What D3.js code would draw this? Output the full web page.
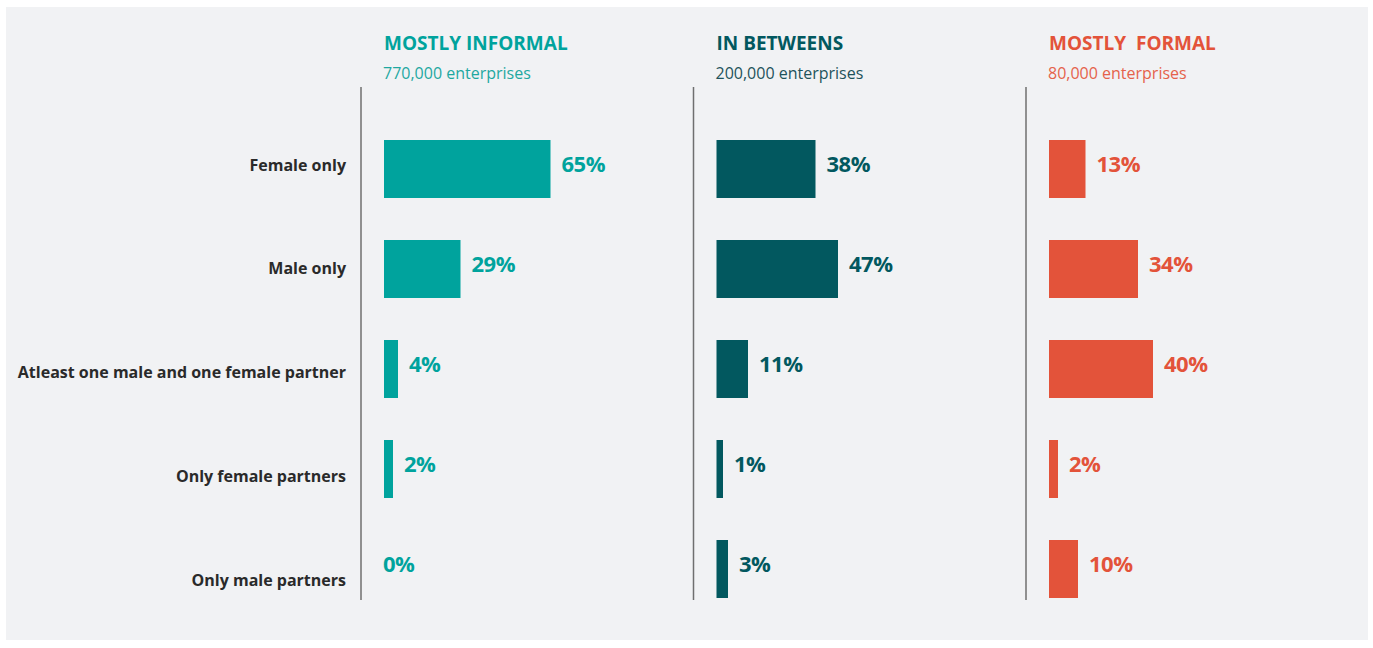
<!DOCTYPE html>
<html>
<head>
<meta charset="utf-8">
<script src="https://cdn.jsdelivr.net/npm/d3@7"></script>
<style>
	body { margin: 0; background: #ffffff; }
	svg { display: block; font-family: 'Open Sans', sans-serif; }
</style>
</head>
<body>
<div id="chart_container"></div>
<script>
// Data
const categories = ['Female only', 'Male only', 'Atleast one male and one female partner', 'Only female partners', 'Only male partners']
const groups = ['MOSTLY INFORMAL', 'IN BETWEENS', 'MOSTLY  FORMAL']
const groupSubtitles = ['770,000 enterprises', '200,000 enterprises', '80,000 enterprises']
const informalValues = [65, 29, 4, 2, 0]
const inBetweenValues = [38, 47, 11, 1, 3]
const formalValues = [13, 34, 40, 2, 10]
const seriesValues = [informalValues, inBetweenValues, formalValues]

// Chart dimensions
const chartWidth = 1373
const chartHeight = 648

// Colors
const barColors = ['#00a39d', '#02585f', '#e3533a']
const subtitleColors = ['#1ea8a1', '#1e535b', '#e5624b']
const labelColor = '#2a2a2a'
const dividerColor = '#6f6f6f'
const panelColor = '#f1f2f4'

// Scales
let scaleCol = d3.scalePoint()
	.domain(groups)
	.range([384, 1049])
// non-zero bars keep a small stub, like the original
let scaleW = d3.scaleLinear()
	.domain([0, 100])
	.range([4, 254])
let scaleY = d3.scaleBand()
	.domain(categories)
	.range([119, 619])
	.paddingInner(0.42)
	.paddingOuter(0.21)
let scaleLabelY = d3.scalePoint()
	.domain(categories)
	.range([165, 580])

let barWidth = (v) => v > 0 ? scaleW(v) : 0

// Create chart area
let svg = d3.select('#chart_container')
	.append('svg')
	.attr('width', chartWidth)
	.attr('height', chartHeight)

svg.append('rect')
	.attr('x', 6)
	.attr('y', 7)
	.attr('width', 1362)
	.attr('height', 633)
	.attr('fill', panelColor)

// Category labels
svg.selectAll('text.category')
	.data(categories)
	.enter()
	.append('text')
	.attr('class', 'category')
	.attr('x', 346)
	.attr('y', (d) => scaleLabelY(d))
	.attr('dy', '0.35em')
	.attr('text-anchor', 'end')
	.style('font-size', '16px')
	.style('font-weight', 700)
	.style('fill', labelColor)
	.text((d) => d)

// One column per group
groups.forEach((group, gi) => {
	let x0 = scaleCol(group)
	let col = svg.append('g').attr('class', 'column')

	// Divider
	col.append('line')
		.attr('x1', x0 - 23)
		.attr('x2', x0 - 23)
		.attr('y1', 87)
		.attr('y2', 600)
		.style('stroke', dividerColor)
		.style('stroke-width', 1.5)

	// Header
	col.append('text')
		.attr('x', x0)
		.attr('y', 50)
		.style('font-size', '19px')
		.style('font-weight', 700)
		.style('fill', barColors[gi])
		.style('white-space', 'pre')
		.text(group)
	col.append('text')
		.attr('x', x0 - 1)
		.attr('y', 79)
		.style('font-size', '16px')
		.style('fill', subtitleColors[gi])
		.text(groupSubtitles[gi])

	// Bars
	let rows = categories.map((c, i) => ({ cat: c, value: seriesValues[gi][i] }))
	col.selectAll('rect')
		.data(rows)
		.enter()
		.append('rect')
		.attr('x', x0)
		.attr('y', (d) => scaleY(d.cat))
		.attr('width', (d) => barWidth(d.value))
		.attr('height', scaleY.bandwidth())
		.attr('fill', barColors[gi])

	// Value labels
	col.selectAll('text.value')
		.data(rows)
		.enter()
		.append('text')
		.attr('class', 'value')
		.attr('x', (d) => d.value > 0 ? x0 + barWidth(d.value) + 11 : x0 - 1)
		.attr('y', (d) => scaleY(d.cat) + scaleY.bandwidth() / 2 - 5)
		.attr('dy', '0.36em')
		.style('font-size', '22px')
		.style('letter-spacing', '-0.5px')
		.style('font-weight', 700)
		.style('fill', barColors[gi])
		.text((d) => d.value + '%')
})
</script>
</body>
</html>
